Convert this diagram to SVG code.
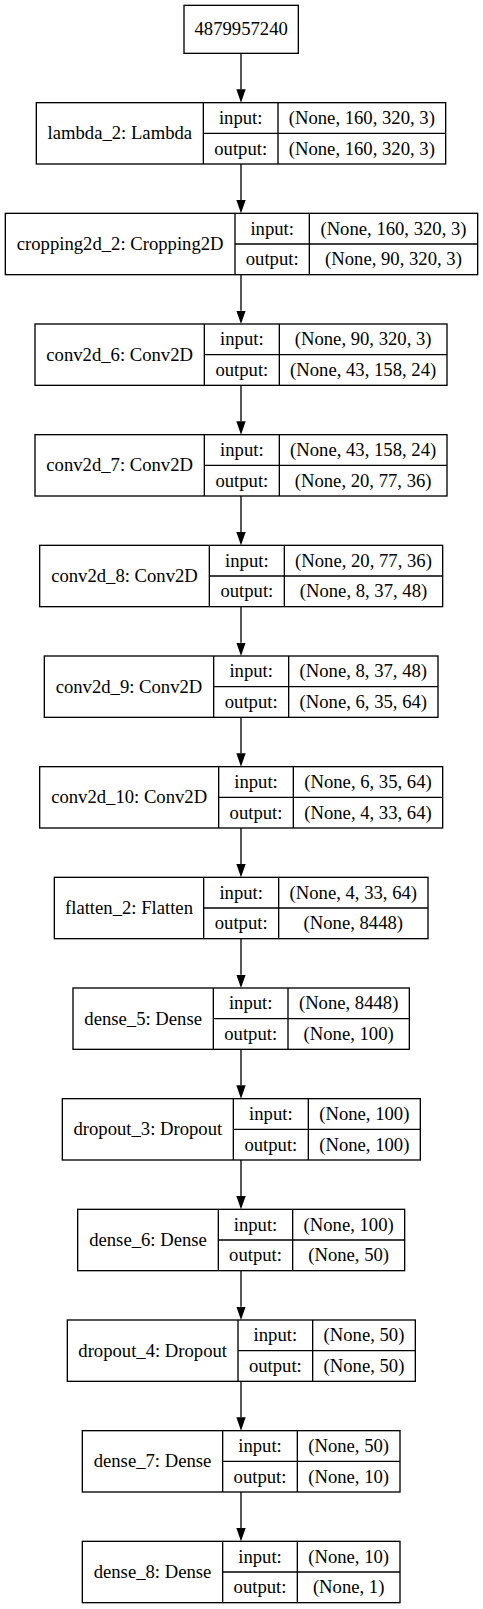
<svg xmlns="http://www.w3.org/2000/svg" width="483" height="1609" viewBox="0 0 483 1609">
<style>
.box{fill:#fff;stroke:#000;stroke-width:1.33}
.sep{stroke:#000;stroke-width:1.33}
.edge{stroke:#000;stroke-width:1.33;fill:none;marker-end:url(#arr)}
text{font-family:'Liberation Serif','Times New Roman','DejaVu Serif',serif;font-size:18.67px;fill:#000;text-anchor:middle}
</style>
<defs>
<marker id="arr" markerUnits="userSpaceOnUse" viewBox="0 0 13.33 9.33" markerWidth="13.33" markerHeight="9.33" refX="0" refY="4.67" orient="auto">
<path d="M0,0 L13.33,4.67 L0,9.33 Z" fill="#000"/>
</marker>
</defs>
<rect width="483" height="1609" fill="#fff"/>
<g id="connectors">
<line class="edge" x1="241" y1="53.33" x2="241" y2="89.33"/>
<line class="edge" x1="241" y1="164" x2="241" y2="200"/>
<line class="edge" x1="241" y1="274.67" x2="241" y2="310.67"/>
<line class="edge" x1="241" y1="385.33" x2="241" y2="421.33"/>
<line class="edge" x1="241" y1="496" x2="241" y2="532"/>
<line class="edge" x1="241" y1="606.67" x2="241" y2="642.67"/>
<line class="edge" x1="241" y1="717.33" x2="241" y2="753.33"/>
<line class="edge" x1="241" y1="828" x2="241" y2="864"/>
<line class="edge" x1="241" y1="938.67" x2="241" y2="974.67"/>
<line class="edge" x1="241" y1="1049.33" x2="241" y2="1085.33"/>
<line class="edge" x1="241" y1="1160" x2="241" y2="1196"/>
<line class="edge" x1="241" y1="1270.67" x2="241" y2="1306.67"/>
<line class="edge" x1="241" y1="1381.33" x2="241" y2="1417.33"/>
<line class="edge" x1="241" y1="1492" x2="241" y2="1528"/>
</g>
<g font-family="Liberation Serif, Times New Roman, serif">
<g id="input_node">
<rect class="box" x="184" y="5.33" width="114.33" height="48"/>
<text x="241.17" y="35.33">4879957240</text>
</g>
<g id="lambda_2">
<rect class="box" x="36.33" y="102.67" width="409.34" height="61.33"/>
<line class="sep" x1="203.33" y1="102.67" x2="203.33" y2="164"/>
<line class="sep" x1="278" y1="102.67" x2="278" y2="164"/>
<line class="sep" x1="203.33" y1="133.33" x2="445.67" y2="133.33"/>
<text x="119.83" y="139.33">lambda_2: Lambda</text>
<text x="240.67" y="124">input:</text>
<text x="240.67" y="154.67">output:</text>
<text x="361.83" y="124">(None, 160, 320, 3)</text>
<text x="361.83" y="154.67">(None, 160, 320, 3)</text>
</g>
<g id="cropping2d_2">
<rect class="box" x="5.33" y="213.33" width="472.34" height="61.34"/>
<line class="sep" x1="235" y1="213.33" x2="235" y2="274.67"/>
<line class="sep" x1="309.33" y1="213.33" x2="309.33" y2="274.67"/>
<line class="sep" x1="235" y1="244" x2="477.67" y2="244"/>
<text x="120.17" y="250">cropping2d_2: Cropping2D</text>
<text x="272.17" y="234.67">input:</text>
<text x="272.17" y="265.33">output:</text>
<text x="393.5" y="234.67">(None, 160, 320, 3)</text>
<text x="393.5" y="265.33">(None, 90, 320, 3)</text>
</g>
<g id="conv2d_6">
<rect class="box" x="35" y="324" width="412" height="61.33"/>
<line class="sep" x1="204.33" y1="324" x2="204.33" y2="385.33"/>
<line class="sep" x1="279.33" y1="324" x2="279.33" y2="385.33"/>
<line class="sep" x1="204.33" y1="354.67" x2="447" y2="354.67"/>
<text x="119.67" y="360.67">conv2d_6: Conv2D</text>
<text x="241.83" y="345.33">input:</text>
<text x="241.83" y="376">output:</text>
<text x="363.17" y="345.33">(None, 90, 320, 3)</text>
<text x="363.17" y="376">(None, 43, 158, 24)</text>
</g>
<g id="conv2d_7">
<rect class="box" x="35" y="434.67" width="412" height="61.33"/>
<line class="sep" x1="204.33" y1="434.67" x2="204.33" y2="496"/>
<line class="sep" x1="279.33" y1="434.67" x2="279.33" y2="496"/>
<line class="sep" x1="204.33" y1="465.33" x2="447" y2="465.33"/>
<text x="119.67" y="471.33">conv2d_7: Conv2D</text>
<text x="241.83" y="456">input:</text>
<text x="241.83" y="486.67">output:</text>
<text x="363.17" y="456">(None, 43, 158, 24)</text>
<text x="363.17" y="486.67">(None, 20, 77, 36)</text>
</g>
<g id="conv2d_8">
<rect class="box" x="39.67" y="545.33" width="403" height="61.34"/>
<line class="sep" x1="209.33" y1="545.33" x2="209.33" y2="606.67"/>
<line class="sep" x1="284.33" y1="545.33" x2="284.33" y2="606.67"/>
<line class="sep" x1="209.33" y1="576" x2="442.67" y2="576"/>
<text x="124.5" y="582">conv2d_8: Conv2D</text>
<text x="246.83" y="566.67">input:</text>
<text x="246.83" y="597.33">output:</text>
<text x="363.5" y="566.67">(None, 20, 77, 36)</text>
<text x="363.5" y="597.33">(None, 8, 37, 48)</text>
</g>
<g id="conv2d_9">
<rect class="box" x="44.33" y="656" width="393.67" height="61.33"/>
<line class="sep" x1="213.67" y1="656" x2="213.67" y2="717.33"/>
<line class="sep" x1="288.67" y1="656" x2="288.67" y2="717.33"/>
<line class="sep" x1="213.67" y1="686.67" x2="438" y2="686.67"/>
<text x="129" y="692.67">conv2d_9: Conv2D</text>
<text x="251.17" y="677.33">input:</text>
<text x="251.17" y="708">output:</text>
<text x="363.33" y="677.33">(None, 8, 37, 48)</text>
<text x="363.33" y="708">(None, 6, 35, 64)</text>
</g>
<g id="conv2d_10">
<rect class="box" x="39.67" y="766.67" width="403" height="61.33"/>
<line class="sep" x1="218.67" y1="766.67" x2="218.67" y2="828"/>
<line class="sep" x1="293.33" y1="766.67" x2="293.33" y2="828"/>
<line class="sep" x1="218.67" y1="797.33" x2="442.67" y2="797.33"/>
<text x="129.17" y="803.33">conv2d_10: Conv2D</text>
<text x="256" y="788">input:</text>
<text x="256" y="818.67">output:</text>
<text x="368" y="788">(None, 6, 35, 64)</text>
<text x="368" y="818.67">(None, 4, 33, 64)</text>
</g>
<g id="flatten_2">
<rect class="box" x="54.33" y="877.33" width="373.67" height="61.34"/>
<line class="sep" x1="203.67" y1="877.33" x2="203.67" y2="938.67"/>
<line class="sep" x1="278.67" y1="877.33" x2="278.67" y2="938.67"/>
<line class="sep" x1="203.67" y1="908" x2="428" y2="908"/>
<text x="129" y="914">flatten_2: Flatten</text>
<text x="241.17" y="898.67">input:</text>
<text x="241.17" y="929.33">output:</text>
<text x="353.33" y="898.67">(None, 4, 33, 64)</text>
<text x="353.33" y="929.33">(None, 8448)</text>
</g>
<g id="dense_5">
<rect class="box" x="73" y="988" width="336.33" height="61.33"/>
<line class="sep" x1="213.33" y1="988" x2="213.33" y2="1049.33"/>
<line class="sep" x1="288" y1="988" x2="288" y2="1049.33"/>
<line class="sep" x1="213.33" y1="1018.67" x2="409.33" y2="1018.67"/>
<text x="143.17" y="1024.67">dense_5: Dense</text>
<text x="250.67" y="1009.33">input:</text>
<text x="250.67" y="1040">output:</text>
<text x="348.67" y="1009.33">(None, 8448)</text>
<text x="348.67" y="1040">(None, 100)</text>
</g>
<g id="dropout_3">
<rect class="box" x="62.33" y="1098.67" width="358" height="61.33"/>
<line class="sep" x1="233.33" y1="1098.67" x2="233.33" y2="1160"/>
<line class="sep" x1="308.33" y1="1098.67" x2="308.33" y2="1160"/>
<line class="sep" x1="233.33" y1="1129.33" x2="420.33" y2="1129.33"/>
<text x="147.83" y="1135.33">dropout_3: Dropout</text>
<text x="270.83" y="1120">input:</text>
<text x="270.83" y="1150.67">output:</text>
<text x="364.33" y="1120">(None, 100)</text>
<text x="364.33" y="1150.67">(None, 100)</text>
</g>
<g id="dense_6">
<rect class="box" x="77.67" y="1209.33" width="327" height="61.34"/>
<line class="sep" x1="218.33" y1="1209.33" x2="218.33" y2="1270.67"/>
<line class="sep" x1="292.67" y1="1209.33" x2="292.67" y2="1270.67"/>
<line class="sep" x1="218.33" y1="1240" x2="404.67" y2="1240"/>
<text x="148" y="1246">dense_6: Dense</text>
<text x="255.5" y="1230.67">input:</text>
<text x="255.5" y="1261.33">output:</text>
<text x="348.67" y="1230.67">(None, 100)</text>
<text x="348.67" y="1261.33">(None, 50)</text>
</g>
<g id="dropout_4">
<rect class="box" x="67.33" y="1320" width="348" height="61.33"/>
<line class="sep" x1="238" y1="1320" x2="238" y2="1381.33"/>
<line class="sep" x1="312.67" y1="1320" x2="312.67" y2="1381.33"/>
<line class="sep" x1="238" y1="1350.67" x2="415.33" y2="1350.67"/>
<text x="152.67" y="1356.67">dropout_4: Dropout</text>
<text x="275.33" y="1341.33">input:</text>
<text x="275.33" y="1372">output:</text>
<text x="364" y="1341.33">(None, 50)</text>
<text x="364" y="1372">(None, 50)</text>
</g>
<g id="dense_7">
<rect class="box" x="82.33" y="1430.67" width="317.67" height="61.33"/>
<line class="sep" x1="222.67" y1="1430.67" x2="222.67" y2="1492"/>
<line class="sep" x1="297.33" y1="1430.67" x2="297.33" y2="1492"/>
<line class="sep" x1="222.67" y1="1461.33" x2="400" y2="1461.33"/>
<text x="152.5" y="1467.33">dense_7: Dense</text>
<text x="260" y="1452">input:</text>
<text x="260" y="1482.67">output:</text>
<text x="348.67" y="1452">(None, 50)</text>
<text x="348.67" y="1482.67">(None, 10)</text>
</g>
<g id="dense_8">
<rect class="box" x="82.33" y="1541.33" width="317.67" height="61.34"/>
<line class="sep" x1="222.67" y1="1541.33" x2="222.67" y2="1602.67"/>
<line class="sep" x1="297.33" y1="1541.33" x2="297.33" y2="1602.67"/>
<line class="sep" x1="222.67" y1="1572" x2="400" y2="1572"/>
<text x="152.5" y="1578">dense_8: Dense</text>
<text x="260" y="1562.67">input:</text>
<text x="260" y="1593.33">output:</text>
<text x="348.67" y="1562.67">(None, 10)</text>
<text x="348.67" y="1593.33">(None, 1)</text>
</g>
</g>
</svg>
